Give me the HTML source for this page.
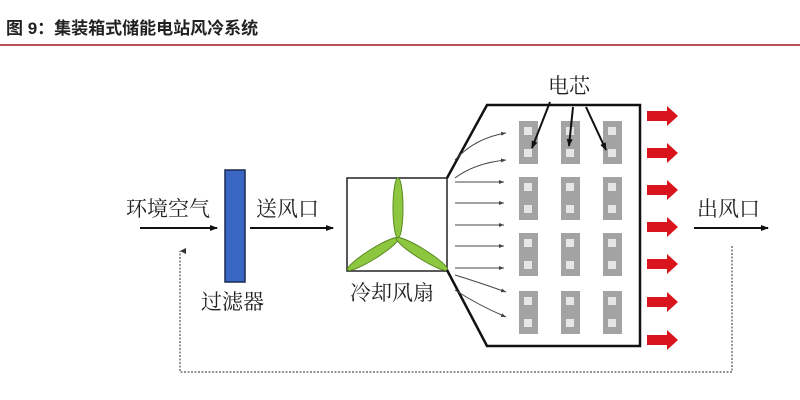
<!DOCTYPE html>
<html><head><meta charset="utf-8"><style>
body{margin:0;background:#fff;}
svg{display:block}
text{font-family:"Liberation Serif","Noto Serif CJK SC",serif;}
text.t{font-family:"Liberation Sans","Noto Sans CJK SC",sans-serif;}
</style></head><body>
<svg width="800" height="400" viewBox="0 0 800 400" xmlns="http://www.w3.org/2000/svg">
<defs>
<marker id="a" markerWidth="8" markerHeight="6" refX="7" refY="3" orient="auto" markerUnits="userSpaceOnUse"><path d="M0,0L8,3L0,6z" fill="#111"/></marker>
<marker id="s" markerWidth="5" markerHeight="4" refX="5" refY="2" orient="auto" markerUnits="userSpaceOnUse"><path d="M0,0L5,2L0,4z" fill="#444"/></marker>
<marker id="d" markerWidth="6" markerHeight="6" refX="3" refY="0" orient="auto" markerUnits="userSpaceOnUse"><path d="M0,6L3,0L6,6z" fill="#333"/></marker>
<g id="red"><path d="M0,-5H20V-10L31,0L20,10V5H0z" fill="#d9141c"/></g>
<g id="cell"><rect x="0" y="0" width="19" height="43" fill="#a3a3a3"/><rect x="5" y="6" width="8" height="8" fill="#e6e6e6"/><rect x="5" y="28" width="8" height="8" fill="#e6e6e6"/></g>
</defs>
<text class="t" x="6" y="34" font-size="17" font-weight="bold" fill="#222">图 9：集装箱式储能电站风冷系统</text>
<line x1="0" y1="45" x2="800" y2="45" stroke="#a01820" stroke-width="1.5"/>

<text x="126" y="216" font-size="21" fill="#222">环境空气</text>
<line x1="140" y1="228" x2="217" y2="228" stroke="#111" stroke-width="2" marker-end="url(#a)"/>
<rect x="225" y="170" width="20" height="112" fill="#3a66c4" stroke="#1a2a50" stroke-width="1.5"/>
<text x="201" y="309" font-size="21" fill="#222">过滤器</text>
<text x="256" y="216" font-size="21" fill="#222">送风口</text>
<line x1="250" y1="228" x2="333" y2="228" stroke="#111" stroke-width="2" marker-end="url(#a)"/>

<rect x="347" y="178" width="100" height="93" fill="#fff" stroke="#222" stroke-width="1.5"/>
<g fill="#8dc63f" stroke="#5a8a20" stroke-width="1">
<ellipse cx="398" cy="208" rx="5" ry="30"/>
<ellipse cx="373" cy="254" rx="5" ry="30" transform="rotate(58 373 254)"/>
<ellipse cx="422" cy="254" rx="5" ry="30" transform="rotate(-58 422 254)"/>
</g>
<text x="350" y="300" font-size="21" fill="#222">冷却风扇</text>

<path d="M447,178L487,105H640V346H487L447,270" fill="none" stroke="#111" stroke-width="2.5"/>
<g stroke="#444" stroke-width="1" fill="none" marker-end="url(#s)">
<path d="M455,160Q475,138 506,133"/>
<path d="M455,178Q475,163 506,160"/>
<line x1="455" y1="182" x2="504" y2="182"/>
<line x1="455" y1="203" x2="504" y2="203"/>
<line x1="455" y1="225" x2="504" y2="225"/>
<line x1="455" y1="246" x2="504" y2="246"/>
<line x1="455" y1="268" x2="504" y2="268"/>
<path d="M455,275Q478,282 506,292"/>
<path d="M455,290Q478,305 506,317"/>
</g>
<use href="#cell" x="519" y="121"/><use href="#cell" x="561" y="121"/><use href="#cell" x="603" y="121"/>
<use href="#cell" x="519" y="177"/><use href="#cell" x="561" y="177"/><use href="#cell" x="603" y="177"/>
<use href="#cell" x="519" y="233"/><use href="#cell" x="561" y="233"/><use href="#cell" x="603" y="233"/>
<use href="#cell" x="519" y="291"/><use href="#cell" x="561" y="291"/><use href="#cell" x="603" y="291"/>
<text x="548" y="93" font-size="21" fill="#222">电芯</text>
<g stroke="#111" stroke-width="2" marker-end="url(#a)">
<line x1="550" y1="102" x2="532" y2="148"/>
<line x1="573" y1="107" x2="569" y2="146"/>
<line x1="586" y1="107" x2="606" y2="150"/>
</g>
<use href="#red" x="647" y="116"/><use href="#red" x="647" y="153"/><use href="#red" x="647" y="190"/>
<use href="#red" x="647" y="227"/><use href="#red" x="647" y="264"/><use href="#red" x="647" y="302"/>
<use href="#red" x="647" y="340"/>

<text x="697" y="216" font-size="21" fill="#222">出风口</text>
<line x1="694" y1="228" x2="768" y2="228" stroke="#111" stroke-width="2" marker-end="url(#a)"/>
<path d="M732,246V372H180V251" fill="none" stroke="#555" stroke-width="1.2" stroke-dasharray="2,1.5" marker-end="url(#d)"/>
</svg>
</body></html>
